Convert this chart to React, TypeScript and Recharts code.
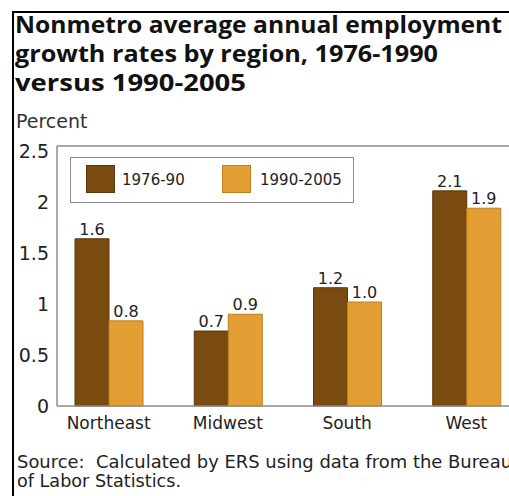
import React from 'react';
import { BarChart, Bar, XAxis, YAxis, LabelList, Legend, ReferenceLine } from 'recharts';

const regions = ['Northeast', 'Midwest', 'South', 'West'];
const rate1976to90 = [1.64, 0.735, 1.16, 2.11];
const rate1990to2005 = [0.835, 0.9, 1.02, 1.94];
const yTicks = [0, 0.5, 1, 1.5, 2, 2.5];
const seriesNames = ['1976-90', '1990-2005'];
const titleLines = [
  'Nonmetro average annual employment',
  'growth rates by region, 1976-1990',
  'versus 1990-2005',
];
const titleWidths = [487, 423, 231];
const unitLabel = 'Percent';
const sourceLines = [
  'Source:\u00a0 Calculated by ERS using data from the Bureau',
  'of Labor Statistics.',
];
const sourceWidths = [495, 164];

const DARK = '#7a4b10';
const DARK_EDGE = '#5a3608';
const LIGHT = '#e39e34';
const LIGHT_EDGE = '#bf7f1e';
const FRAME = '#8c8c8c';
const FONT = '"DejaVu Sans", sans-serif';

const data = regions.map((r, i) => ({ region: r, a: rate1976to90[i], b: rate1990to2005[i] }));

const fmt = (v: any) => Number(v).toFixed(1);

const renderLegend = () => (
  <div
    style={{
      position: 'relative',
      width: 284,
      height: 46,
      boxSizing: 'border-box',
      border: `1.5px solid ${FRAME}`,
      background: '#fff',
      fontFamily: FONT,
      fontSize: 15,
      color: '#222',
    }}
  >
    <div style={{ position: 'absolute', left: 15, top: 7, width: 29, height: 28, background: DARK, boxSizing: 'border-box', border: `1px solid ${DARK_EDGE}` }} />
    <div style={{ position: 'absolute', left: 51, top: 13, lineHeight: '18px', whiteSpace: 'nowrap' }}>{seriesNames[0]}</div>
    <div style={{ position: 'absolute', left: 151, top: 7, width: 29, height: 28, background: LIGHT, boxSizing: 'border-box', border: `1px solid ${LIGHT_EDGE}` }} />
    <div style={{ position: 'absolute', left: 189, top: 13, lineHeight: '18px', whiteSpace: 'nowrap' }}>{seriesNames[1]}</div>
  </div>
);

export default function App() {
  return (
    <div style={{ position: 'absolute', left: 0, top: 0, width: 509, height: 496, overflow: 'hidden', background: '#fff' }}>
      <div style={{ position: 'absolute', left: 0, top: 0 }}>
        <BarChart
          width={540}
          height={496}
          data={data}
          margin={{ top: 146, right: 14, bottom: 60, left: 0 }}
          barGap={0}
          barSize={34}
        >
          <XAxis
            dataKey="region"
            padding={{ left: -8, right: 0 }}
            tickLine={false}
            tickMargin={5}
            height={30}
            axisLine={{ stroke: FRAME, strokeWidth: 1.5 }}
            tick={{ fill: '#222', fontSize: 17, fontFamily: FONT }}
            interval={0}
          />
          <YAxis
            width={57}
            domain={[0, 2.55]}
            ticks={yTicks}
            tickLine={false}
            tickMargin={2}
            axisLine={{ stroke: FRAME, strokeWidth: 1.5 }}
            tick={{ fill: '#222', fontSize: 19, fontFamily: FONT }}
            tickFormatter={(v: number) => String(v)}
          />
          <ReferenceLine y={2.55} stroke={FRAME} strokeWidth={1.5} ifOverflow="extendDomain" />
          <Legend
            layout="horizontal"
            verticalAlign="middle"
            align="center"
            content={renderLegend}
            wrapperStyle={{ position: 'absolute', left: 70, top: 157, width: 284, height: 46 }}
          />
          <Bar dataKey="a" name={seriesNames[0]} fill={DARK} stroke={DARK_EDGE} strokeWidth={1} isAnimationActive={false}>
            <LabelList dataKey="a" position="top" offset={4} formatter={fmt} style={{ fill: '#222', fontSize: 16, fontFamily: FONT }} />
          </Bar>
          <Bar dataKey="b" name={seriesNames[1]} fill={LIGHT} stroke={LIGHT_EDGE} strokeWidth={1} isAnimationActive={false}>
            <LabelList dataKey="b" position="top" offset={4} formatter={fmt} style={{ fill: '#222', fontSize: 16, fontFamily: FONT }} />
          </Bar>
        </BarChart>
      </div>
      <svg width={509} height={496} style={{ position: 'absolute', left: 0, top: 0, pointerEvents: 'none' }}>
        <line x1={13} y1={11} x2={13} y2={496} stroke="#000" strokeWidth={2} />
        <line x1={12} y1={12} x2={509} y2={12} stroke="#000" strokeWidth={2} />
        {titleLines.map((t, i) => (
          <text
            key={i}
            x={15}
            y={32.7 + i * 29}
            fontFamily='"Open Sans", sans-serif'
            fontWeight={700}
            fontSize={23}
            fill="#111"
            textLength={titleWidths[i]}
            lengthAdjust="spacingAndGlyphs"
            style={{ whiteSpace: 'pre' }}
          >
            {t}
          </text>
        ))}
        <text x={16} y={127.5} fontFamily={FONT} fontSize={19} fill="#333">{unitLabel}</text>
        {sourceLines.map((t, i) => (
          <text
            key={i}
            x={17}
            y={468 + i * 19}
            fontFamily={FONT}
            fontSize={17}
            fill="#222"
            textLength={sourceWidths[i]}
            lengthAdjust="spacingAndGlyphs"
            style={{ whiteSpace: 'pre' }}
          >
            {t}
          </text>
        ))}
      </svg>
    </div>
  );
}
